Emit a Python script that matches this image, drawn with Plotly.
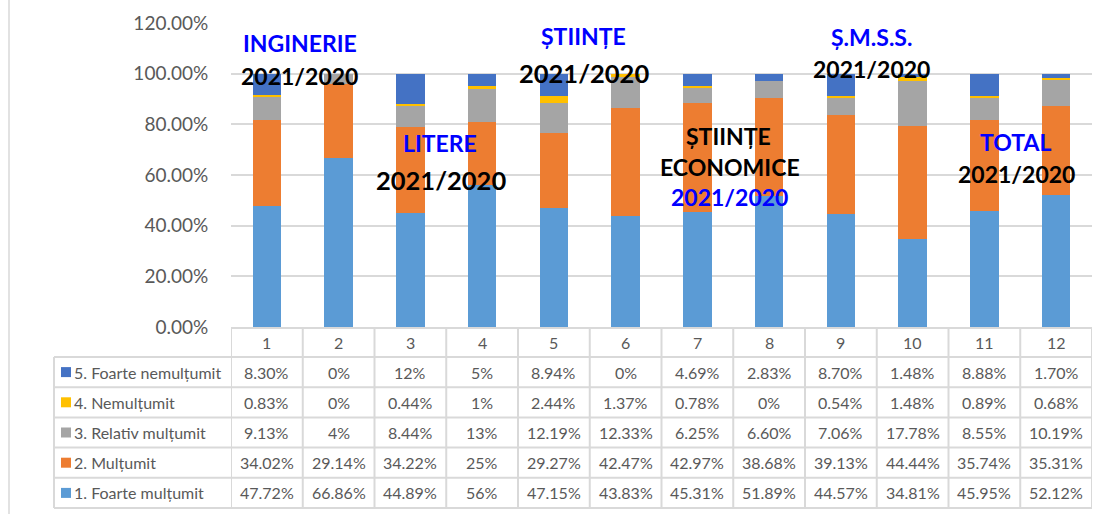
import plotly.graph_objects as go

# ---------------- data ----------------
categories = [1, 2, 3, 4, 5, 6, 7, 8, 9, 10, 11, 12]
series_names = ["1. Foarte mulțumit", "2. Mulțumit", "3. Relativ mulțumit",
                "4. Nemulțumit", "5. Foarte nemulțumit"]
foarte_multumit = [47.72, 66.86, 44.89, 56, 47.15, 43.83, 45.31, 51.89, 44.57, 34.81, 45.95, 52.12]
multumit = [34.02, 29.14, 34.22, 25, 29.27, 42.47, 42.97, 38.68, 39.13, 44.44, 35.74, 35.31]
relativ_multumit = [9.13, 4, 8.44, 13, 12.19, 12.33, 6.25, 6.60, 7.06, 17.78, 8.55, 10.19]
nemultumit = [0.83, 0, 0.44, 1, 2.44, 1.37, 0.78, 0, 0.54, 1.48, 0.89, 0.68]
foarte_nemultumit = [8.30, 0, 12, 5, 8.94, 0, 4.69, 2.83, 8.70, 1.48, 8.88, 1.70]
series_values = [foarte_multumit, multumit, relativ_multumit, nemultumit, foarte_nemultumit]
series_colors = ["#5B9BD5", "#ED7D31", "#A5A5A5", "#FFC000", "#4472C4"]

y_tick_values = [0, 0.2, 0.4, 0.6, 0.8, 1.0, 1.2]

# overlay labels: (text, color, size, x category position, y value)
overlay_texts = ["INGINERIE", "2021/2020", "LITERE", "2021/2020", "ȘTIINȚE", "2021/2020",
                 "ȘTIINȚE", "ECONOMICE", "2021/2020", "Ș.M.S.S.", "2021/2020", "TOTAL", "2021/2020"]
overlay_colors = ["#0000FF", "#000000", "#0000FF", "#000000", "#0000FF", "#000000",
                  "#000000", "#000000", "#0000FF", "#0000FF", "#000000", "#0000FF", "#000000"]
overlay_sizes = [23, 23, 23, 25.5, 23, 25.5, 23, 23, 23, 23, 23, 23, 23]
overlay_x = [1.46, 1.46, 3.41, 3.42, 5.41, 5.42, 7.43, 7.45, 7.45, 9.43, 9.43, 11.44, 11.45]
overlay_y = [1.123, 0.989, 0.728, 0.582, 1.150, 1.004, 0.752, 0.633, 0.515, 1.146, 1.020, 0.732, 0.602]

# ---------------- layout constants (pixels) ----------------
W, H = 1108, 514
L, R, T, B = 231, 16, 23, 187
plot_w = W - L - R
plot_h = H - T - B
plot_bottom = H - B

def px_x(px):
    return (px - L) / plot_w

def px_y(py):
    return (plot_bottom - py) / plot_h

grey_text = "#595959"
grid_col = "#D9D9D9"
font_fam = "Lato"
table_font = 16

fig = go.Figure()
for name, vals, col in zip(series_names, series_values, series_colors):
    fig.add_trace(go.Bar(
        x=categories, y=[v / 100 for v in vals], name=name,
        marker=dict(color=col, line=dict(width=0)),
        width=0.4, showlegend=False, hoverinfo="skip"))

shapes = []
annotations = []

# table geometry
table_left = 54
header_top = plot_bottom + 1
header_bottom = 357
row_h = 30.2
row_order = [4, 3, 2, 1, 0]  # top row first: 5. ... 1.
row_tops = [header_bottom + i * row_h for i in range(len(row_order) + 1)]
line_style = dict(color=grid_col, width=2)

# horizontal lines
shapes.append(dict(type="line", xref="paper", yref="paper", x0=0, x1=1,
                   y0=px_y(header_top), y1=px_y(header_top), line=line_style, layer="above"))
for yt in row_tops:
    shapes.append(dict(type="line", xref="paper", yref="paper", x0=px_x(table_left), x1=1,
                       y0=px_y(yt), y1=px_y(yt), line=line_style))
# vertical lines across data columns
for i in range(len(categories) + 1):
    xv = categories[0] - 0.5 + i
    shapes.append(dict(type="line", xref="x", yref="paper", x0=xv, x1=xv,
                       y0=px_y(header_top), y1=px_y(row_tops[-1]), line=line_style))
# left edge of label column
shapes.append(dict(type="line", xref="paper", yref="paper", x0=px_x(table_left), x1=px_x(table_left),
                   y0=px_y(row_tops[0]), y1=px_y(row_tops[-1]), line=line_style))
# outer chart border (left)
shapes.append(dict(type="line", xref="paper", yref="paper", x0=px_x(9), x1=px_x(9),
                   y0=px_y(0), y1=px_y(H), line=dict(color=grid_col, width=1.5)))

def fmt(v):
    if float(v).is_integer():
        return f"{int(v)}%"
    return f"{v:.2f}%"

# header labels
for c in categories:
    annotations.append(dict(x=c, y=px_y((header_top + header_bottom) / 2), xref="x", yref="paper",
                            text=str(c), showarrow=False, xanchor="center", yanchor="middle",
                            font=dict(family=font_fam, size=table_font, color=grey_text)))
# rows
for r, si in enumerate(row_order):
    yc = (row_tops[r] + row_tops[r + 1]) / 2
    shapes.append(dict(type="rect", xref="paper", yref="paper",
                       x0=px_x(61), x1=px_x(71), y0=px_y(yc - 5), y1=px_y(yc + 5),
                       fillcolor=series_colors[si], line=dict(width=0)))
    annotations.append(dict(x=px_x(72), y=px_y(yc), xref="paper", yref="paper",
                            text=series_names[si], showarrow=False, xanchor="left", yanchor="middle",
                            font=dict(family=font_fam, size=table_font, color=grey_text)))
    for c, v in zip(categories, series_values[si]):
        annotations.append(dict(x=c, y=px_y(yc), xref="x", yref="paper",
                                text=fmt(v), showarrow=False, xanchor="center", yanchor="middle",
                                font=dict(family=font_fam, size=table_font, color=grey_text)))

# overlay labels
for t, col, sz, xx, yy in zip(overlay_texts, overlay_colors, overlay_sizes, overlay_x, overlay_y):
    annotations.append(dict(x=xx, y=yy, xref="x", yref="y", text=f"<b>{t}</b>",
                            showarrow=False, xanchor="center", yanchor="middle",
                            font=dict(family=font_fam, size=sz, color=col)))

fig.update_layout(
    width=W, height=H,
    margin=dict(l=L, r=R, t=T, b=B, pad=0, autoexpand=False),
    barmode="stack",
    plot_bgcolor="white", paper_bgcolor="white",
    shapes=shapes, annotations=annotations,
    xaxis=dict(range=[0.5, 12.5], showticklabels=False, showgrid=False, zeroline=False,
               showline=False, ticks=""),
    yaxis=dict(range=[0, 1.2], tickvals=y_tick_values, tickformat=".2%",
               showgrid=True, gridcolor=grid_col, gridwidth=1.5, zeroline=False,
               showline=False, ticks="outside", ticklen=18, tickcolor="rgba(0,0,0,0)",
               tickfont=dict(family=font_fam, size=19, color=grey_text)),
)

fig.write_html("out.html",
               config={"displayModeBar": False},
               post_script="document.body.style.margin='0';document.body.style.padding='0';"
                           "document.body.style.overflow='hidden';")
